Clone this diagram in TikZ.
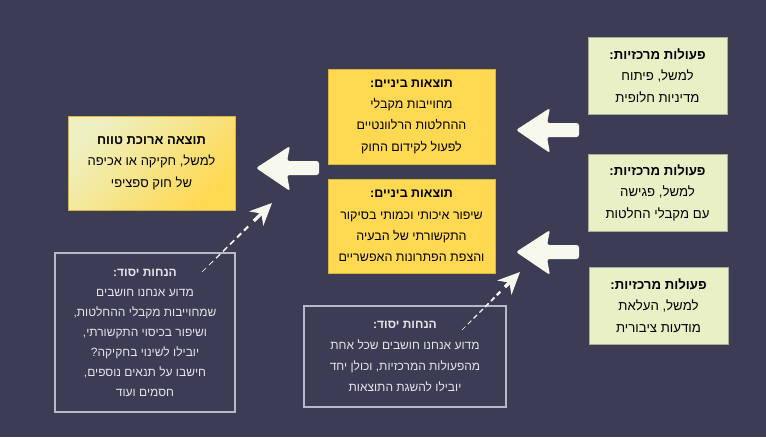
\documentclass[tikz,border=0pt]{standalone}
\usepackage{fontspec}
\setmainfont{Liberation Sans}
\newfontfamily\hebfont[Script=Hebrew]{Liberation Sans}
\TeXXeTstate=1
\usetikzlibrary{arrows.meta,calc}
\newcommand\hbl[1]{\beginR #1\endR}
\definecolor{bg}{HTML}{3C3D54}
\definecolor{yel}{HTML}{FFD951}
\definecolor{yelb}{HTML}{D8B43C}
\definecolor{lgr}{HTML}{E9F0C5}
\definecolor{lgrb}{HTML}{A9AC96}
\definecolor{arw}{HTML}{F7F9EE}
\definecolor{nbord}{HTML}{B5B9C9}
\definecolor{ntext}{HTML}{E4E4EA}
\definecolor{ylight}{HTML}{EEF0C2}
\tikzset{
  box/.style={inner sep=0pt, align=center, text=black,
    font={\hebfont\fontsize{12.5}{21.3}\selectfont}},
  actbox/.style={box, fill=lgr, draw=lgrb, line width=0.6pt, minimum width=139pt, minimum height=77pt,
    font={\hebfont\fontsize{13.2}{21.5}\selectfont}},
  midbox/.style={box, fill=yel, draw=yelb, line width=0.6pt, minimum width=167pt, minimum height=95pt},
  notebox/.style={box, draw=nbord, line width=1.6pt, text=ntext,
    font={\hebfont\fontsize{12}{20}\selectfont}},
  bigarrow/.pic={\fill[arw, rounded corners=2.5pt] (0,0) -- (34,-22) -- (31,-7) -- (63,-7) -- (63,7) -- (31,7) -- (34,23) -- cycle;},
}
\begin{document}
\begin{tikzpicture}[x=1pt,y=-1pt]
\fill[bg] (0,0) rectangle (766,437);
\useasboundingbox (0,0) rectangle (766,437);

% right action boxes
\node[actbox] (r1) at (657.5,75.5) {\textbf{\hbl{פעולות מרכזיות:}}\\\hbl{למשל, פיתוח}\\\hbl{מדיניות חלופית}};
\node[actbox] (r2) at (657.5,192.5) {\textbf{\hbl{פעולות מרכזיות:}}\\\hbl{למשל, פגישה}\\\hbl{עם מקבלי החלטות}};
\node[actbox] (r3) at (658.5,305.5) {\textbf{\hbl{פעולות מרכזיות:}}\\\hbl{למשל, העלאת}\\\hbl{מודעות ציבורית}};

% middle boxes
\node[midbox] (m1) at (411.5,116.5) {\textbf{\hbl{תוצאות ביניים:}}\\\hbl{מחוייבות מקבלי}\\\hbl{ההחלטות הרלוונטיים}\\\hbl{לפעול לקידום החוק}};
\node[midbox, minimum height=94pt] (m2) at (411.5,226) {\textbf{\hbl{תוצאות ביניים:}}\\\hbl{שיפור איכותי וכמותי בסיקור}\\\hbl{התקשורתי של הבעיה}\\\hbl{והצפת הפתרונות האפשריים}};

% long-term box
\node[box, minimum width=167pt, minimum height=94pt, draw=yelb, line width=0.6pt,
  font={\hebfont\fontsize{13}{21.5}\selectfont},
  shade, top color=ylight, bottom color=yel, shading angle=45] (lt) at (151.5,163)
  {\textbf{\hbl{תוצאה ארוכת טווח}}\\\hbl{למשל, חקיקה או אכיפה}\\\hbl{של חוק ספציפי}};

% notes boxes
\node[notebox, minimum width=180pt, minimum height=159pt] (n1) at (145,332.5)
  {\textbf{\hbl{הנחות יסוד:}}\\\hbl{מדוע אנחנו חושבים}\\\hbl{שמחוייבות מקבלי ההחלטות,}\\\hbl{ושיפור בכיסוי התקשורתי,}\\\hbl{יובילו לשינוי בחקיקה?}\\\hbl{חישבו על תנאים נוספים,}\\\hbl{חסמים ועוד}};
\node[notebox, minimum width=202pt, minimum height=101pt, font={\hebfont\fontsize{12}{21}\selectfont}] (n2) at (405,356.5)
  {\textbf{\hbl{הנחות יסוד:}}\\\hbl{מדוע אנחנו חושבים שכל אחת}\\\hbl{מהפעולות המרכזיות, וכולן יחד}\\\hbl{יובילו להשגת התוצאות}};

% big arrows
\pic at (516,130) {bigarrow};
\pic at (516,252) {bigarrow};
\pic at (256,168) {bigarrow};

% dashed tapered arrows
\coordinate (s1) at (202,272);
\coordinate (t1) at (272,203);
\coordinate (s2) at (462,330);
\coordinate (t2) at (520,272);
\foreach \s/\t in {s1/t1,s2/t2}{
  \foreach \a [evaluate=\a as \w using {0.6+2.6*\a}] in {0,0.1,...,0.7}{
    \draw[arw, line width=\w pt] ($(\s)!\a!(\t)$) -- ($(\s)!{\a+0.06}!(\t)$);
  }
  \draw[arw, line width=3.2pt, -{Stealth[length=22pt,width=20pt,inset=7pt]}] ($(\s)!0.74!(\t)$) -- (\t);
}
\end{tikzpicture}
\end{document}
